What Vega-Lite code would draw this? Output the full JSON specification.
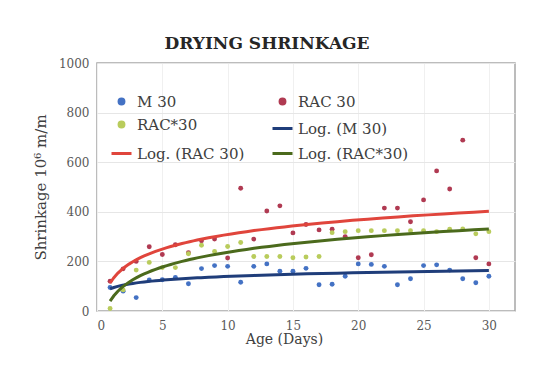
{
  "$schema": "https://vega.github.io/schema/vega-lite/v6.json",
  "autosize": {"type": "none"},
  "width": 418,
  "height": 248,
  "padding": {"left": 97, "top": 63, "right": 24, "bottom": 81},
  "background": "white",
  "title": {"text": "DRYING SHRINKAGE", "font": "DejaVu Serif", "fontSize": 17, "fontWeight": "bold", "color": "#262626", "anchor": "middle", "dx": -39, "offset": 4},
  "config": {
    "view": {"stroke": "#a6a6a6", "strokeWidth": 1.5},
    "axis": {"labelFont": "DejaVu Serif", "labelFontSize": 12, "labelColor": "#595959", "titleFont": "DejaVu Serif", "titleFontWeight": "normal", "titleColor": "#404040", "gridColor": "#e6e6e6", "ticks": false, "domain": false},
    "legend": {"symbolStrokeWidth": 3, "gridAlign": "all"}
  },
  "data": {"values": [
    {"day":1,"value":95,"series":"M 30","trend":"Log. (M 30)"},
    {"day":2,"value":80,"series":"M 30","trend":"Log. (M 30)"},
    {"day":3,"value":54,"series":"M 30","trend":"Log. (M 30)"},
    {"day":4,"value":125,"series":"M 30","trend":"Log. (M 30)"},
    {"day":5,"value":126,"series":"M 30","trend":"Log. (M 30)"},
    {"day":6,"value":135,"series":"M 30","trend":"Log. (M 30)"},
    {"day":7,"value":110,"series":"M 30","trend":"Log. (M 30)"},
    {"day":8,"value":171,"series":"M 30","trend":"Log. (M 30)"},
    {"day":9,"value":183,"series":"M 30","trend":"Log. (M 30)"},
    {"day":10,"value":180,"series":"M 30","trend":"Log. (M 30)"},
    {"day":11,"value":116,"series":"M 30","trend":"Log. (M 30)"},
    {"day":12,"value":180,"series":"M 30","trend":"Log. (M 30)"},
    {"day":13,"value":190,"series":"M 30","trend":"Log. (M 30)"},
    {"day":14,"value":160,"series":"M 30","trend":"Log. (M 30)"},
    {"day":15,"value":160,"series":"M 30","trend":"Log. (M 30)"},
    {"day":16,"value":172,"series":"M 30","trend":"Log. (M 30)"},
    {"day":17,"value":106,"series":"M 30","trend":"Log. (M 30)"},
    {"day":18,"value":108,"series":"M 30","trend":"Log. (M 30)"},
    {"day":19,"value":140,"series":"M 30","trend":"Log. (M 30)"},
    {"day":20,"value":190,"series":"M 30","trend":"Log. (M 30)"},
    {"day":21,"value":188,"series":"M 30","trend":"Log. (M 30)"},
    {"day":22,"value":180,"series":"M 30","trend":"Log. (M 30)"},
    {"day":23,"value":106,"series":"M 30","trend":"Log. (M 30)"},
    {"day":24,"value":130,"series":"M 30","trend":"Log. (M 30)"},
    {"day":25,"value":183,"series":"M 30","trend":"Log. (M 30)"},
    {"day":26,"value":186,"series":"M 30","trend":"Log. (M 30)"},
    {"day":27,"value":165,"series":"M 30","trend":"Log. (M 30)"},
    {"day":28,"value":130,"series":"M 30","trend":"Log. (M 30)"},
    {"day":29,"value":114,"series":"M 30","trend":"Log. (M 30)"},
    {"day":30,"value":140,"series":"M 30","trend":"Log. (M 30)"},
    {"day":1,"value":120,"series":"RAC 30","trend":"Log. (RAC 30)"},
    {"day":2,"value":170,"series":"RAC 30","trend":"Log. (RAC 30)"},
    {"day":3,"value":200,"series":"RAC 30","trend":"Log. (RAC 30)"},
    {"day":4,"value":259,"series":"RAC 30","trend":"Log. (RAC 30)"},
    {"day":5,"value":228,"series":"RAC 30","trend":"Log. (RAC 30)"},
    {"day":6,"value":267,"series":"RAC 30","trend":"Log. (RAC 30)"},
    {"day":7,"value":235,"series":"RAC 30","trend":"Log. (RAC 30)"},
    {"day":8,"value":283,"series":"RAC 30","trend":"Log. (RAC 30)"},
    {"day":9,"value":290,"series":"RAC 30","trend":"Log. (RAC 30)"},
    {"day":10,"value":214,"series":"RAC 30","trend":"Log. (RAC 30)"},
    {"day":11,"value":495,"series":"RAC 30","trend":"Log. (RAC 30)"},
    {"day":12,"value":290,"series":"RAC 30","trend":"Log. (RAC 30)"},
    {"day":13,"value":403,"series":"RAC 30","trend":"Log. (RAC 30)"},
    {"day":14,"value":424,"series":"RAC 30","trend":"Log. (RAC 30)"},
    {"day":15,"value":315,"series":"RAC 30","trend":"Log. (RAC 30)"},
    {"day":16,"value":349,"series":"RAC 30","trend":"Log. (RAC 30)"},
    {"day":17,"value":327,"series":"RAC 30","trend":"Log. (RAC 30)"},
    {"day":18,"value":330,"series":"RAC 30","trend":"Log. (RAC 30)"},
    {"day":19,"value":300,"series":"RAC 30","trend":"Log. (RAC 30)"},
    {"day":20,"value":215,"series":"RAC 30","trend":"Log. (RAC 30)"},
    {"day":21,"value":227,"series":"RAC 30","trend":"Log. (RAC 30)"},
    {"day":22,"value":415,"series":"RAC 30","trend":"Log. (RAC 30)"},
    {"day":23,"value":415,"series":"RAC 30","trend":"Log. (RAC 30)"},
    {"day":24,"value":360,"series":"RAC 30","trend":"Log. (RAC 30)"},
    {"day":25,"value":448,"series":"RAC 30","trend":"Log. (RAC 30)"},
    {"day":26,"value":565,"series":"RAC 30","trend":"Log. (RAC 30)"},
    {"day":27,"value":492,"series":"RAC 30","trend":"Log. (RAC 30)"},
    {"day":28,"value":689,"series":"RAC 30","trend":"Log. (RAC 30)"},
    {"day":29,"value":215,"series":"RAC 30","trend":"Log. (RAC 30)"},
    {"day":30,"value":190,"series":"RAC 30","trend":"Log. (RAC 30)"},
    {"day":1,"value":10,"series":"RAC*30","trend":"Log. (RAC*30)"},
    {"day":2,"value":85,"series":"RAC*30","trend":"Log. (RAC*30)"},
    {"day":3,"value":165,"series":"RAC*30","trend":"Log. (RAC*30)"},
    {"day":4,"value":196,"series":"RAC*30","trend":"Log. (RAC*30)"},
    {"day":5,"value":175,"series":"RAC*30","trend":"Log. (RAC*30)"},
    {"day":6,"value":175,"series":"RAC*30","trend":"Log. (RAC*30)"},
    {"day":7,"value":231,"series":"RAC*30","trend":"Log. (RAC*30)"},
    {"day":8,"value":265,"series":"RAC*30","trend":"Log. (RAC*30)"},
    {"day":9,"value":240,"series":"RAC*30","trend":"Log. (RAC*30)"},
    {"day":10,"value":260,"series":"RAC*30","trend":"Log. (RAC*30)"},
    {"day":11,"value":276,"series":"RAC*30","trend":"Log. (RAC*30)"},
    {"day":12,"value":220,"series":"RAC*30","trend":"Log. (RAC*30)"},
    {"day":13,"value":220,"series":"RAC*30","trend":"Log. (RAC*30)"},
    {"day":14,"value":220,"series":"RAC*30","trend":"Log. (RAC*30)"},
    {"day":15,"value":215,"series":"RAC*30","trend":"Log. (RAC*30)"},
    {"day":16,"value":218,"series":"RAC*30","trend":"Log. (RAC*30)"},
    {"day":17,"value":220,"series":"RAC*30","trend":"Log. (RAC*30)"},
    {"day":18,"value":316,"series":"RAC*30","trend":"Log. (RAC*30)"},
    {"day":19,"value":320,"series":"RAC*30","trend":"Log. (RAC*30)"},
    {"day":20,"value":324,"series":"RAC*30","trend":"Log. (RAC*30)"},
    {"day":21,"value":324,"series":"RAC*30","trend":"Log. (RAC*30)"},
    {"day":22,"value":324,"series":"RAC*30","trend":"Log. (RAC*30)"},
    {"day":23,"value":324,"series":"RAC*30","trend":"Log. (RAC*30)"},
    {"day":24,"value":324,"series":"RAC*30","trend":"Log. (RAC*30)"},
    {"day":25,"value":324,"series":"RAC*30","trend":"Log. (RAC*30)"},
    {"day":26,"value":320,"series":"RAC*30","trend":"Log. (RAC*30)"},
    {"day":27,"value":330,"series":"RAC*30","trend":"Log. (RAC*30)"},
    {"day":28,"value":331,"series":"RAC*30","trend":"Log. (RAC*30)"},
    {"day":29,"value":311,"series":"RAC*30","trend":"Log. (RAC*30)"},
    {"day":30,"value":320,"series":"RAC*30","trend":"Log. (RAC*30)"}
  ]},
  "layer": [
    {
      "mark": {"type": "point", "filled": true, "opacity": 1, "strokeWidth": 0},
      "encoding": {
        "x": {"field": "day", "type": "quantitative", "scale": {"domain": [0, 32], "nice": false},
          "axis": {"values": [0,5,10,15,20,25,30], "labelPadding": 9, "title": "Age (Days)", "titleFontSize": 14, "titleX": 187, "titleY": 32, "titleBaseline": "alphabetic", "gridColor": "#f0f0f0"}},
        "y": {"field": "value", "type": "quantitative", "scale": {"domain": [0, 1000], "nice": false},
          "axis": {"values": [0,100,200,300,400,500,600,700,800,900,1000], "format": "d", "labelPadding": 8, "title": "Shrinkage  10⁶ m/m", "titleFontSize": 15, "titlePadding": 10}},
        "color": {"field": "series", "type": "nominal",
          "scale": {"domain": ["M 30","RAC 30","RAC*30","Log. (M 30)","Log. (RAC 30)","Log. (RAC*30)"],
                    "range": ["#4472c4","#b03a52","#b9cc5c","#1f3d7a","#e0453c","#4b6a1c"]},
          "legend": {"orient": "none", "direction": "horizontal", "legendX": 13, "legendY": 29, "columns": 2, "columnPadding": 18, "rowPadding": 4, "padding": 0, "title": null, "gridAlign": "all",
            "labelFont": "DejaVu Serif", "labelFontSize": 15, "labelColor": "#404040", "labelOffset": 4, "labelLimit": 200, "symbolStrokeWidth": 3, "symbolOpacity": 1}},
        "shape": {"field": "series", "type": "nominal",
          "scale": {"domain": ["M 30","RAC 30","RAC*30","Log. (M 30)","Log. (RAC 30)","Log. (RAC*30)"],
                    "range": ["circle","circle","circle","stroke","stroke","stroke"]}},
        "size": {"field": "series", "type": "ordinal",
          "scale": {"type": "ordinal", "domain": ["M 30","RAC 30","RAC*30","Log. (M 30)","Log. (RAC 30)","Log. (RAC*30)"],
                    "range": [24,24,24,400,400,400]}}
      }
    },
    {
      "transform": [{"regression": "value", "on": "day", "groupby": ["trend"], "method": "log"}],
      "mark": {"type": "line", "strokeWidth": 3},
      "encoding": {
        "x": {"field": "day", "type": "quantitative"},
        "y": {"field": "value", "type": "quantitative"},
        "color": {"field": "trend", "type": "nominal"}
      }
    }
  ]
}
